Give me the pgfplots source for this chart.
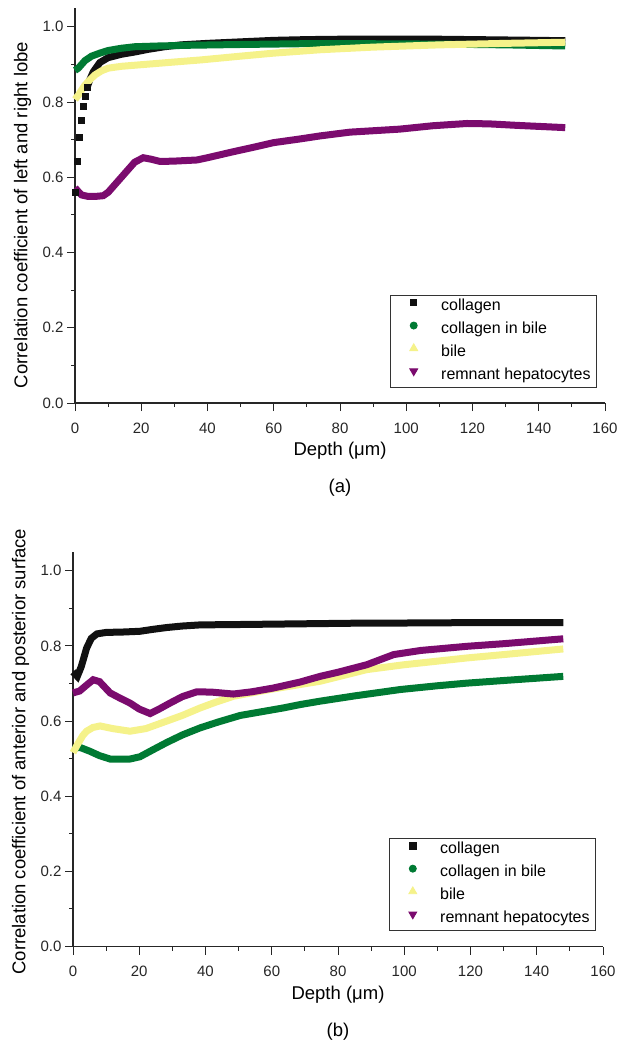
\documentclass[border=0pt]{standalone}
\usepackage{fontspec}
\setmainfont{Liberation Sans}
\usepackage{pgfplots}
\pgfplotsset{compat=1.18}

\definecolor{colblack}{HTML}{111111}
\definecolor{colgreen}{HTML}{007A33}
\definecolor{colyellow}{HTML}{F5F28A}
\definecolor{colpurple}{HTML}{7B0B6E}

\pgfplotsset{
  depth axis/.style={
    scale only axis,
    width=530pt,
    xmin=0, xmax=160, ymin=0, ymax=1.05,
    axis lines=left,
    axis line style={-, line width=1.1pt, black!85},
    tick align=outside,
    major tick length=8pt,
    minor tick length=4pt,
    tick style={line width=1pt, black!85},
    xtick={0,20,40,60,80,100,120,140,160},
    minor x tick num=1,
    ytick={0,0.2,0.4,0.6,0.8,1.0},
    minor y tick num=1,
    /pgf/number format/assume math mode=true,
    yticklabel style={/pgf/number format/fixed, /pgf/number format/fixed zerofill,
      /pgf/number format/precision=1},
    xticklabel style={yshift=-8pt},
    tick label style={font=\fontsize{15}{18}\selectfont, text=black!85},
    label style={font=\fontsize{18.5}{22}\selectfont},
    xlabel={Depth (μm)},
    xlabel style={at={(axis description cs:0.5,0)}, anchor=center, yshift=-48pt},
    clip=false,
    legend cell align=left,
    legend image code/.code={\path (0pt,0pt) (44pt,0pt); \draw[#1] plot coordinates {(17pt,4.5pt)};},
    legend style={anchor=south east, draw=black!80, line width=0.9pt,
      inner xsep=6pt, inner ysep=0.5pt,
      font=\fontsize{16}{19}\selectfont,
      nodes={inner sep=0pt, text height=15pt, text depth=7.8pt}},
  },
  series/.style={line width=7pt, forget plot},
}

\begin{document}
\begin{tikzpicture}
\useasboundingbox (0pt,0pt) rectangle (618pt,-1040pt);

% ---- panel (a)
\begin{axis}[depth axis,
  at={(75pt,-403pt)}, anchor=south west,
  height=395pt,
  ylabel={Correlation coefficient of left and right lobe},
  ylabel style={at={(axis description cs:-0.099,0.476)}, anchor=center},
  legend style={at={(rel axis cs:0.985,0.038)}},
]
\addplot[colblack, only marks, mark=square*, mark size=3pt, forget plot] coordinates {
  (0,0.561) (0.7,0.644) (1.3,0.706) (1.8,0.753) (2.4,0.788) (3.0,0.815) (3.7,0.84)};
\addplot[series, colblack] coordinates {
  (3.7,0.84) (4.5,0.86) (5.5,0.88) (7.5,0.905) (10,0.918) (14,0.927) (18,0.933)
  (22,0.94) (27,0.947) (32,0.952) (40,0.956) (50,0.96) (60,0.964) (70,0.966)
  (80,0.967) (90,0.967) (100,0.967) (110,0.967) (120,0.966) (130,0.965) (140,0.964) (148,0.963)};
\addplot[series, colgreen] coordinates {
  (0,0.884) (1,0.89) (2,0.9) (3,0.91) (5,0.922) (7.5,0.93) (10,0.937) (14,0.943)
  (18,0.947) (25,0.949) (35,0.951) (50,0.953) (68,0.955) (90,0.955) (110,0.954)
  (130,0.952) (148,0.949)};
\addplot[series, colyellow] coordinates {
  (0,0.807) (1,0.818) (2,0.832) (3,0.845) (4.5,0.859) (6,0.872) (8,0.883) (10,0.89)
  (14,0.895) (19.6,0.899) (28,0.905) (38,0.912) (50,0.922) (60,0.93) (74,0.939)
  (90,0.946) (110,0.952) (130,0.956) (148,0.959)};
\addplot[series, colpurple] coordinates {
  (0,0.572) (1,0.562) (2,0.553) (4,0.549) (6,0.549) (8.5,0.551) (10,0.56) (12,0.58)
  (14,0.6) (16,0.62) (18,0.64) (20.6,0.652) (23,0.648) (25.7,0.642) (30,0.643)
  (36.8,0.646) (40,0.652) (47.8,0.668) (54,0.68) (59.9,0.692) (68,0.702) (74,0.71)
  (83,0.72) (98,0.728) (108,0.737) (118.3,0.743) (125,0.742) (133.4,0.738) (148,0.732)};
\addlegendimage{mark=square*, colblack, mark size=3.2pt}
\addlegendentry{collagen}
\addlegendimage{mark=*, colgreen, mark size=3.5pt}
\addlegendentry{collagen in bile}
\addlegendimage{mark=triangle*, colyellow, mark size=4.5pt}
\addlegendentry{bile}
\addlegendimage{mark=triangle*, colpurple, mark size=4.5pt, mark options={rotate=180}}
\addlegendentry{remnant hepatocytes}
\node[font=\fontsize{18.5}{22}\selectfont] at (axis description cs:0.5,0) [yshift=-85pt] {(a)};
\end{axis}

% ---- panel (b)
\begin{axis}[depth axis,
  at={(73pt,-946.5pt)}, anchor=south west,
  height=394.5pt,
  ylabel={Correlation coefficient of anterior and posterior surface},
  ylabel style={at={(axis description cs:-0.099,0.494)}, anchor=center},
  legend style={at={(rel axis cs:0.987,0.039)}},
]
\addplot[series, colblack] coordinates {
  (0,0.731) (1.3,0.719) (2.5,0.745) (4.1,0.794) (5.5,0.82) (7.2,0.832) (10,0.836)
  (15,0.837) (20.2,0.839) (24,0.844) (28.3,0.849) (33,0.853) (38.4,0.856) (50,0.857)
  (60,0.858) (70,0.859) (80,0.86) (90,0.861) (100,0.861) (120,0.862) (148,0.862)};
\addplot[series, colgreen] coordinates {
  (0,0.527) (2.1,0.53) (5,0.52) (8,0.508) (11.2,0.499) (17.2,0.499) (20.2,0.505)
  (24,0.523) (28.3,0.543) (33,0.563) (38.4,0.582) (44,0.598) (50.5,0.615) (57,0.625)
  (63.5,0.635) (68.6,0.644) (74.6,0.653) (85,0.667) (98.8,0.684) (110,0.694)
  (118.9,0.701) (130,0.708) (148,0.719)};
\addplot[series, colyellow] coordinates {
  (0,0.516) (1.5,0.54) (3,0.562) (4.1,0.573) (6,0.583) (8.2,0.587) (12,0.58)
  (17.2,0.573) (22,0.58) (28.3,0.6) (33,0.615) (38.4,0.635) (43,0.65) (48.4,0.666)
  (60,0.685) (74.6,0.706) (88.7,0.737) (100,0.75) (118.9,0.768) (130,0.777) (148,0.792)};
\addplot[series, colpurple] coordinates {
  (0,0.675) (2,0.68) (4,0.695) (6.1,0.71) (8,0.705) (11.2,0.675) (14,0.662)
  (17.2,0.648) (20,0.632) (23.3,0.62) (26,0.632) (29.3,0.648) (33,0.665) (37.4,0.678)
  (42,0.677) (48.4,0.672) (54,0.678) (60.5,0.688) (68.6,0.704) (74.6,0.719) (80,0.73)
  (88.7,0.75) (96.8,0.777) (105,0.788) (118.9,0.799) (130,0.806) (148,0.819)};
\addlegendimage{mark=square*, colblack, mark size=3.2pt}
\addlegendentry{collagen}
\addlegendimage{mark=*, colgreen, mark size=3.5pt}
\addlegendentry{collagen in bile}
\addlegendimage{mark=triangle*, colyellow, mark size=4.5pt}
\addlegendentry{bile}
\addlegendimage{mark=triangle*, colpurple, mark size=4.5pt, mark options={rotate=180}}
\addlegendentry{remnant hepatocytes}
\node[font=\fontsize{18.5}{22}\selectfont] at (axis description cs:0.5,0) [yshift=-85pt] {(b)};
\end{axis}
\end{tikzpicture}
\end{document}
